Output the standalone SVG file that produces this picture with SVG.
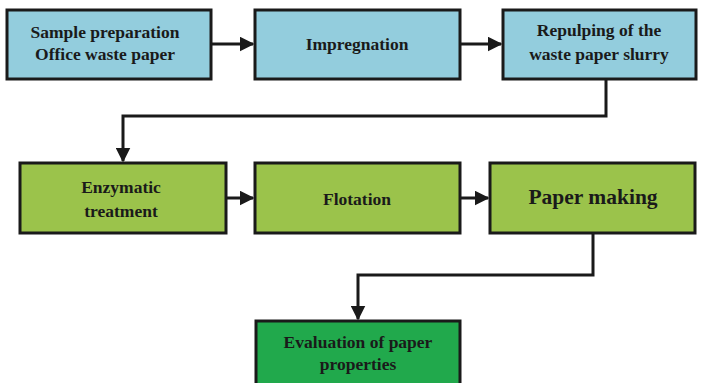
<svg xmlns="http://www.w3.org/2000/svg" width="701" height="383" viewBox="0 0 701 383">
<style>
.box{stroke:#1a1a1a;stroke-width:3}
.blue{fill:#93cddd}
.green{fill:#9bc34b}
.dark{fill:#21a94c}
.t{font-family:"Liberation Serif","DejaVu Serif",serif;font-weight:bold;font-size:17.5px;fill:#1a1a1a;text-anchor:middle}
.big{font-size:21.5px}
.c{fill:none;stroke:#1a1a1a;stroke-width:3}
</style>
<defs>
<marker id="ah" markerWidth="5" markerHeight="5" refX="4.5" refY="2.5" orient="auto" markerUnits="strokeWidth">
<path d="M0,0 L5,2.5 L0,5 Z" fill="#1a1a1a"/>
</marker>
</defs>
<rect width="701" height="383" fill="#ffffff"/>
<g id="connectors">
<path class="c" d="M211,44 H253" marker-end="url(#ah)"/>
<path class="c" d="M460,44 H501" marker-end="url(#ah)"/>
<path class="c" d="M606,79 V116 H123 V161" marker-end="url(#ah)"/>
<path class="c" d="M226,198 H253" marker-end="url(#ah)"/>
<path class="c" d="M460,198 H488" marker-end="url(#ah)"/>
<path class="c" d="M593,233 V275 H358 V319" marker-end="url(#ah)"/>
</g>
<g id="n1">
<rect class="box blue" x="7" y="10" width="204" height="69"/>
<text class="t" x="105" y="38">Sample preparation</text>
<text class="t" x="105" y="60">Office waste paper</text>
</g>
<g id="n2">
<rect class="box blue" x="255" y="10" width="205" height="69"/>
<text class="t" x="357" y="50">Impregnation</text>
</g>
<g id="n3">
<rect class="box blue" x="503" y="10" width="193" height="69"/>
<text class="t" x="599" y="36">Repulping of the</text>
<text class="t" x="599" y="60">waste paper slurry</text>
</g>
<g id="n4">
<rect class="box green" x="20" y="163" width="206" height="70"/>
<text class="t" x="121" y="193">Enzymatic</text>
<text class="t" x="121" y="217">treatment</text>
</g>
<g id="n5">
<rect class="box green" x="255" y="163" width="205" height="70"/>
<text class="t" x="357" y="205">Flotation</text>
</g>
<g id="n6">
<rect class="box green" x="490" y="163" width="205" height="70"/>
<text class="t big" x="593" y="204">Paper making</text>
</g>
<g id="n7">
<rect class="box dark" x="256" y="321" width="204" height="70"/>
<text class="t" x="358" y="348">Evaluation of paper</text>
<text class="t" x="358" y="370">properties</text>
</g>
</svg>
